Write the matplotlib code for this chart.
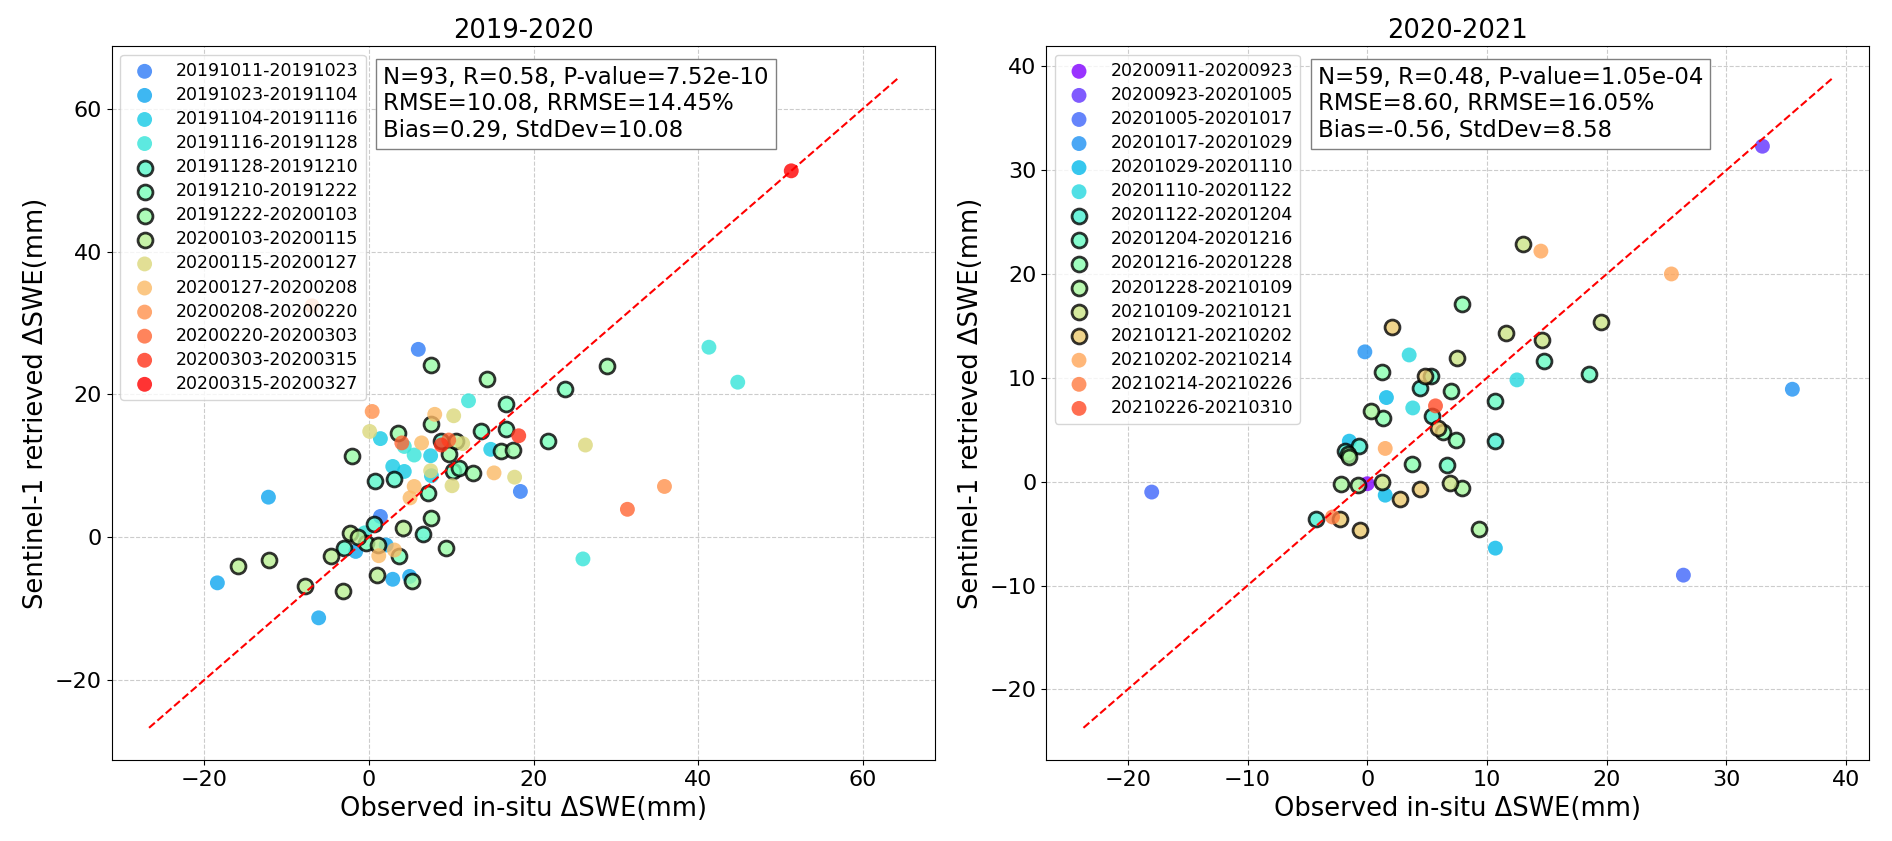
import numpy as np
import matplotlib.pyplot as plt

# ---- 2019-2020 season ----
periods_1 = ['20191011-20191023', '20191023-20191104', '20191104-20191116', '20191116-20191128',
             '20191128-20191210', '20191210-20191222', '20191222-20200103', '20200103-20200115',
             '20200115-20200127', '20200127-20200208', '20200208-20200220', '20200220-20200303',
             '20200303-20200315', '20200315-20200327']
obs_1 = [
    [6.0, 18.4, 1.4],
    [-12.2, 2.1, -1.6, -18.4, 2.9, 4.95, -6.1],
    [1.4, 7.5, 14.8, 2.9, 4.3, 7.6],
    [12.1, 4.3, 5.5, -0.5, 41.3, 44.8, 26.0],
    [8.7, 3.1, 0.7, 0.6, 6.6, -3.0],
    [23.8, 16.7, 13.6, 16.7, 21.8, 10.2, 10.9, 7.2, -0.3, 3.7],
    [7.6, 14.3, 7.6, 3.5, -2.1, 9.7, 16.1, 17.5, 12.7, 7.5, 9.4, 5.2, 28.9],
    [10.6, 4.1, -2.3, -1.3, 1.1, -4.6, -15.9, -12.1, 1.0, -7.8, -3.1],
    [10.3, 0.1, 11.4, 26.3, 7.5, 17.7, 10.1],
    [8.0, 6.4, 15.2, 5.5, 5.0, 3.1, 1.2],
    [0.4, -6.9, 35.9],
    [4.0, 9.7, 31.4],
    [8.8, 18.2],
    [51.3],
]
ret_1 = [
    [26.3, 6.4, 2.9],
    [5.6, -1.1, -2.0, -6.4, -5.9, -5.5, -11.3],
    [13.8, 11.4, 12.3, 9.9, 9.2, 8.6],
    [19.1, 12.7, 11.5, 0.6, 26.6, 21.7, -3.05],
    [13.5, 8.2, 7.9, 1.9, 0.4, -1.5],
    [20.7, 18.6, 14.8, 15.1, 13.5, 9.3, 9.7, 6.2, -0.8, -2.7],
    [24.1, 22.2, 15.8, 14.6, 11.4, 11.7, 12.1, 12.2, 9.0, 2.7, -1.5, -6.2, 23.9],
    [13.4, 1.3, 0.6, 0.0, -1.1, -2.6, -4.1, -3.2, -5.3, -6.9, -7.5],
    [17.0, 14.8, 13.1, 12.9, 9.3, 8.4, 7.2],
    [17.2, 13.2, 9.0, 7.1, 5.5, -1.8, -2.6],
    [17.6, 32.4, 7.1],
    [13.2, 13.6, 3.9],
    [12.9, 14.2],
    [51.3],
]
edged_1 = [4, 5, 6, 7]
line_1 = [-26.7, 64.2]
stats_1 = 'N=93, R=0.58, P-value=7.52e-10\nRMSE=10.08, RRMSE=14.45%\nBias=0.29, StdDev=10.08'

# ---- 2020-2021 season ----
periods_2 = ['20200911-20200923', '20200923-20201005', '20201005-20201017', '20201017-20201029',
             '20201029-20201110', '20201110-20201122', '20201122-20201204', '20201204-20201216',
             '20201216-20201228', '20201228-20210109', '20210109-20210121', '20210121-20210202',
             '20210202-20210214', '20210214-20210226', '20210226-20210310']
obs_2 = [
    [0.0],
    [33.0],
    [26.4, -18.0],
    [-0.2, 35.5],
    [1.6, -1.5, 1.5, 10.7],
    [3.5, 12.5, 3.8],
    [5.4, 10.7, -0.7, -1.9, -4.3, 4.4],
    [14.8, 5.3, 18.5, 10.7, 6.7],
    [7.9, 1.2, 7.0, 1.3, 6.3, 7.4, 3.7],
    [0.3, -1.6, -1.5, -2.2, -0.8, 7.9, 9.3],
    [13.0, 19.5, 11.6, 14.6, 7.5, 1.2, 6.9],
    [2.1, 4.8, 5.9, 2.7, 4.4, -2.3, -0.6],
    [14.5, 25.4, 1.5],
    [-2.9],
    [5.7],
]
ret_2 = [
    [-0.2],
    [32.3],
    [-9.0, -1.0],
    [12.5, 8.9],
    [8.1, 3.9, -1.3, -6.4],
    [12.2, 9.8, 7.1],
    [6.3, 3.9, 3.4, 3.0, -3.6, 9.0],
    [11.6, 10.2, 10.4, 7.8, 1.6],
    [17.1, 10.6, 8.7, 6.1, 4.8, 4.0, 1.7],
    [6.8, 2.7, 2.4, -0.2, -0.3, -0.6, -4.6],
    [22.9, 15.4, 14.3, 13.6, 11.9, 0.0, -0.1],
    [14.9, 10.2, 5.2, -1.7, -0.7, -3.6, -4.7],
    [22.2, 20.0, 3.2],
    [-3.4],
    [7.3],
]
edged_2 = [6, 7, 8, 9, 10, 11]
line_2 = [-23.7, 38.8]
stats_2 = 'N=59, R=0.48, P-value=1.05e-04\nRMSE=8.60, RRMSE=16.05%\nBias=-0.56, StdDev=8.58'


def draw(ax, periods, obs, ret, offset, edged, line_range, stats, title):
    for i, (p, xs, ys) in enumerate(zip(periods, obs, ret)):
        c = plt.cm.rainbow((offset + i) / 15.5)
        if i in edged:
            ax.scatter(xs, ys, s=115, color=c, alpha=0.8, edgecolors='black', linewidths=2, label=p)
        else:
            ax.scatter(xs, ys, s=115, color=c, alpha=0.8, edgecolors='none', label=p)
    ax.plot(line_range, line_range, 'r--', lw=1.5)
    ax.grid(True, linestyle='--', color='#cccccc')
    ax.set_axisbelow(True)
    ax.set_title(title, fontsize=18.5)
    ax.set_xlabel('Observed in-situ ΔSWE(mm)', fontsize=18.5)
    ax.set_ylabel('Sentinel-1 retrieved ΔSWE(mm)', fontsize=18.5)
    ax.tick_params(labelsize=16)
    ax.legend(loc='upper left', fontsize=12.5, labelspacing=0.35)
    ax.text(0.33, 0.973, stats, transform=ax.transAxes, fontsize=16.5, va='top', ha='left',
            bbox=dict(boxstyle='square,pad=0.3', facecolor='white', edgecolor='gray'))


fig, axes = plt.subplots(1, 2, figsize=(18.92, 8.41), dpi=100)
fig.subplots_adjust(left=0.059, right=0.988, bottom=0.096, top=0.945, wspace=0.135)

draw(axes[0], periods_1, obs_1, ret_1, 2.5, edged_1, line_1, stats_1, '2019-2020')
draw(axes[1], periods_2, obs_2, ret_2, 0, edged_2, line_2, stats_2, '2020-2021')

fig.savefig('out.png', dpi=100)
